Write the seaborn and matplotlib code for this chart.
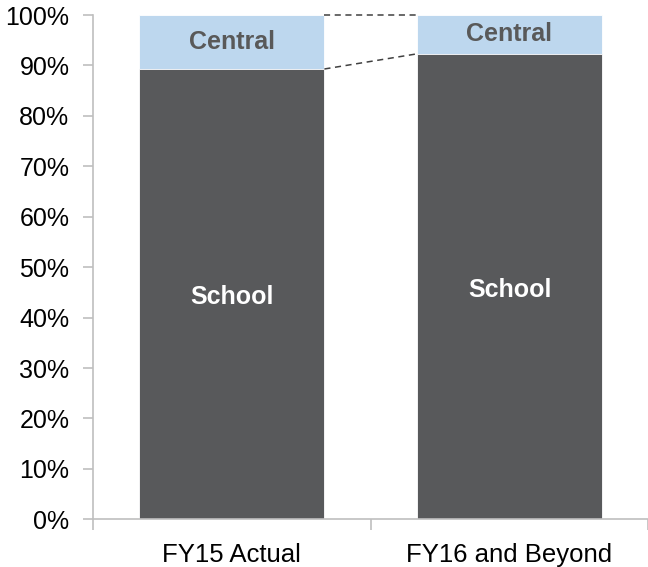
import numpy as np
import pandas as pd
import matplotlib
matplotlib.use("Agg")
import matplotlib.pyplot as plt
import seaborn as sns
from matplotlib.ticker import FixedLocator, FuncFormatter

# data (percent of total)
categories = ["FY15 Actual", "FY16 and Beyond"]
school_share = [89.3, 92.3]
central_share = [10.7, 7.7]

school_color = "#58595B"
central_color = "#BDD7EE"
axis_gray = "#BFBFBF"
bar_width = 0.667

df = pd.DataFrame({
    "period": categories,
    "School": school_share,
    "Central": central_share,
})
df["Total"] = df["School"] + df["Central"]

sns.set_style("white")
plt.rcParams["font.family"] = ["Liberation Sans", "DejaVu Sans"]

fig = plt.figure(figsize=(6.48, 5.67), dpi=100)
ax = fig.add_axes([0.1435, 0.0841, 0.857, 0.8894])

# stacked bars: full height in central colour, school drawn over it
sns.barplot(data=df, x="period", y="Total", color=central_color,
            width=bar_width, saturation=1, edgecolor="white", linewidth=0.6, ax=ax)
sns.barplot(data=df, x="period", y="School", color=school_color,
            width=bar_width, saturation=1, edgecolor="white", linewidth=0.6, ax=ax)

# dashed connectors between the bars
x_left = 0 + bar_width / 2
x_right = 1 - bar_width / 2
ax.plot([x_left, x_right], [df["Total"][0], df["Total"][1]],
        ls=(0, (4, 3)), color="#404040", lw=1.1, clip_on=False)
ax.plot([x_left, x_right], [df["School"][0], df["School"][1]],
        ls=(0, (4, 3)), color="#404040", lw=1.1, clip_on=False)

# segment labels
for i, row in df.iterrows():
    ax.text(i, row["School"] / 2 - 0.6, "School", ha="center", va="center",
            color="white", fontsize=18, fontweight="bold")
    ax.text(i, row["School"] + row["Central"] / 2, "Central", ha="center",
            va="center", color="#595959", fontsize=18, fontweight="bold")

ax.set_xlim(-0.5, 1.5)
ax.set_ylim(0, 100)
ax.yaxis.set_major_locator(FixedLocator(np.arange(0, 101, 10)))
ax.yaxis.set_major_formatter(FuncFormatter(lambda v, p: f"{v:.0f}%"))
ax.xaxis.set_minor_locator(FixedLocator([-0.5, 0.5, 1.5]))

ax.set_xlabel("")
ax.set_ylabel("")
sns.despine(ax=ax, top=True, right=True)
for side in ["left", "bottom"]:
    ax.spines[side].set_color(axis_gray)
    ax.spines[side].set_linewidth(1.2)

ax.tick_params(axis="y", which="major", direction="out", length=7, width=1.2,
               color=axis_gray, labelsize=18, labelcolor="black", pad=10, left=True)
ax.tick_params(axis="x", which="major", length=0, labelsize=18.5,
               labelcolor="black", pad=17, bottom=True)
ax.tick_params(axis="x", which="minor", direction="out", length=8, width=1.2,
               color=axis_gray, bottom=True)

fig.savefig("out.png", dpi=100)
